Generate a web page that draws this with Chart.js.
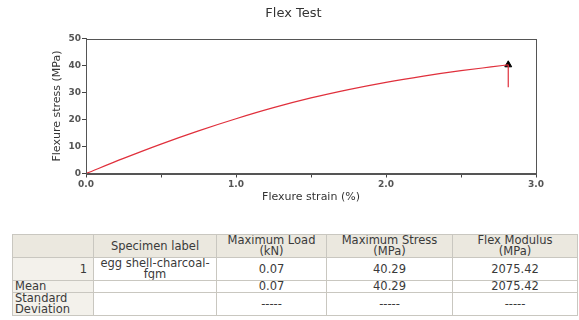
<!DOCTYPE html>
<html>
<head>
<meta charset="utf-8">
<script src="https://cdn.jsdelivr.net/npm/chart.js@4.4.1/dist/chart.umd.min.js"></script>
<style>
  body { margin: 0; background: #fff; font-family: "DejaVu Sans", Verdana, sans-serif; }
  #wrap { position: absolute; left: 0; top: 0; width: 579px; height: 215px; }
  #results { position: absolute; left: 12px; top: 234px; width: 565px; border-collapse: collapse;
    font-size: 11.5px; line-height: 11px; color: #3a3a3a; table-layout: fixed; }
  #results td, #results th { border: 1px solid #c9c7c0; padding: 0 2px; font-weight: normal; text-align: center; vertical-align: middle; overflow: hidden; white-space: nowrap; }
  #results th { background: #ebe8df; height: 22px; }
  #results td.lbl { background: #f3f1eb; text-align: left; }
  #results td.num1 { text-align: right; padding-right: 6px; }
  #results tr.r1 td { height: 22px; }
  #results tr.rm td { height: 11px; }
  #results tr.rs td { height: 22px; }
</style>
</head>
<body>
<div id="wrap"><canvas id="flexChart" width="579" height="215"></canvas></div>
<table id="results"></table>
<script>
// curve: strain (%) vs stress (MPa)
const strain = [0, 0.25, 0.5, 0.75, 1.0, 1.25, 1.5, 1.75, 2.0, 2.25, 2.5, 2.7, 2.815];
const stress = [0, 5.6, 10.9, 15.8, 20.3, 24.4, 28.0, 31.1, 33.8, 36.1, 38.1, 39.5, 40.29];
// drop after break
const dropStrain = [2.815, 2.815];
const dropStress = [40.29, 32.0];
const peakStrain = [2.815];
const peakStress = [40.29];

const xTicks = [0, 1, 2, 3];
const yTicks = [0, 10, 20, 30, 40, 50];

// results table
const columns = ['', 'Specimen label', 'Maximum Load\n(kN)', 'Maximum Stress\n(MPa)', 'Flex Modulus\n(MPa)'];
const rowNames = ['1', 'Mean', 'Standard\nDeviation'];
const specimenLabels = ['egg shell-charcoal-\nfgm', '', ''];
const maxLoad = ['0.07', '0.07', '-----'];
const maxStress = ['40.29', '40.29', '-----'];
const flexModulus = ['2075.42', '2075.42', '-----'];

function buildTable() {
    const t = document.getElementById('results');
    const widths = [81, 123, 110, 126, 125];
    const cg = document.createElement('colgroup');
    widths.forEach(w => { const c = document.createElement('col'); c.style.width = w + 'px'; cg.appendChild(c); });
    t.appendChild(cg);
    const hr = document.createElement('tr');
    columns.forEach(h => {
        const th = document.createElement('th');
        th.innerHTML = h.replace('\n', '<br>');
        hr.appendChild(th);
    });
    t.appendChild(hr);
    const cls = ['r1', 'rm', 'rs'];
    rowNames.forEach((name, i) => {
        const tr = document.createElement('tr');
        tr.className = cls[i];
        const cells = [name, specimenLabels[i], maxLoad[i], maxStress[i], flexModulus[i]];
        cells.forEach((v, j) => {
            const td = document.createElement('td');
            td.innerHTML = v.replace('\n', '<br>');
            if (j === 0) td.className = i === 0 ? 'lbl num1' : 'lbl';
            tr.appendChild(td);
        });
        t.appendChild(tr);
    });
}
buildTable();

const frame = {
    id: 'frame',
    afterDatasetsDraw(chart) {
        const a = chart.chartArea, c = chart.ctx;
        c.save();
        c.strokeStyle = '#555';
        c.lineWidth = 1;
        c.strokeRect(Math.round(a.left) + 0.5, Math.round(a.top) + 0.5,
            Math.round(a.right - a.left), Math.round(a.bottom - a.top));
        c.restore();
    }
};

const tickFont = { family: 'DejaVu Sans', size: 9, weight: 'bold' };
const titleFont = { family: 'DejaVu Sans', size: 11 };
const toPts = (xs, ys) => xs.map((x, i) => ({ x, y: ys[i] }));

new Chart(document.getElementById('flexChart'), {
    type: 'scatter',
    data: {
        datasets: [
            {
                data: toPts(strain, stress),
                showLine: true,
                borderColor: '#e0303c',
                borderWidth: 1.2,
                pointRadius: 0,
                cubicInterpolationMode: 'monotone'
            },
            {
                data: toPts(dropStrain, dropStress),
                showLine: true,
                borderColor: '#e0303c',
                borderWidth: 1.2,
                pointRadius: 0
            },
            {
                data: toPts(peakStrain, peakStress),
                pointStyle: 'triangle',
                pointRadius: 4,
                backgroundColor: '#000',
                borderColor: '#000'
            }
        ]
    },
    options: {
        responsive: false,
        animation: false,
        layout: { padding: { left: 51, right: 43, top: 0, bottom: 8 } },
        plugins: {
            legend: { display: false },
            tooltip: { enabled: false },
            title: {
                display: true,
                text: 'Flex Test',
                color: '#333',
                font: { family: 'DejaVu Sans', size: 13, weight: 'normal' },
                padding: { top: 6, bottom: 17 }
            }
        },
        scales: {
            x: {
                type: 'linear',
                min: 0, max: 3,
                afterFit: s => { s.height = 33.5; },
                ticks: {
                    stepSize: 0.5,
                    padding: 2,
                    color: '#555',
                    font: tickFont,
                    maxRotation: 0,
                    callback: v => xTicks.includes(v) ? v.toFixed(1) : ''
                },
                grid: { drawOnChartArea: false, tickLength: 4, color: '#444' },
                border: { color: '#555' },
                title: { display: true, text: 'Flexure strain (%)', color: '#333', font: titleFont, padding: { top: 4, bottom: 3 } }
            },
            y: {
                min: 0, max: 50,
                afterFit: s => { s.width = 35; },
                ticks: {
                    stepSize: 5,
                    padding: 1,
                    color: '#555',
                    font: tickFont,
                    callback: v => yTicks.includes(v) ? String(v) : ''
                },
                grid: { drawOnChartArea: false, tickLength: 4, color: '#444' },
                border: { color: '#555' },
                title: { display: true, text: 'Flexure stress (MPa)', color: '#333', font: titleFont, padding: { top: 0, bottom: 0 } }
            }
        }
    },
    plugins: [frame]
});
</script>
</body>
</html>
